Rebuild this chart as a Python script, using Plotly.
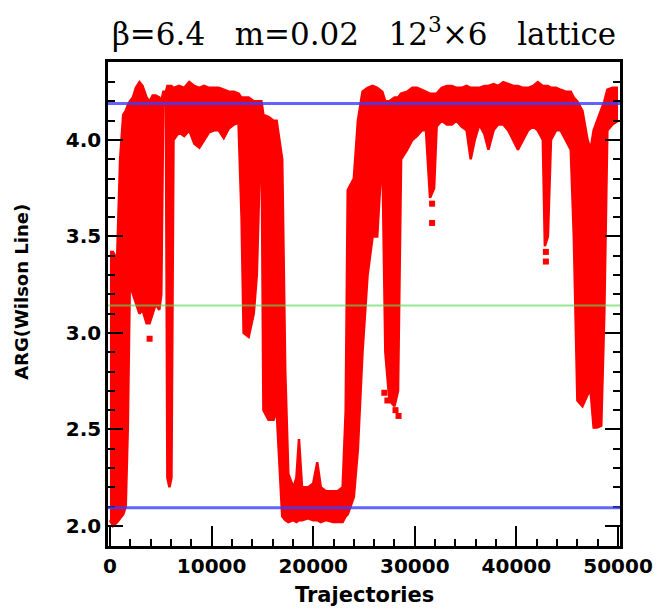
import plotly.graph_objects as go

# Trajectory samples and the upper / lower envelope of the ARG(Wilson Line) scatter
traj = [0, 300, 700, 1000, 1300, 1550, 1750, 1950, 2250, 2550, 2900, 3200, 3600, 3900, 4200, 4500,
        4850, 5050, 5250, 5500, 5650, 5850, 6050, 6250, 6800, 7300, 7800, 8300, 8800, 9250, 9750,
        10250, 10700, 11200, 11700, 12200, 12650, 12950, 13150, 13650, 14150, 14450, 14900, 15100,
        15600, 16100, 16400, 16950, 17250, 17550, 18050, 18350, 18600, 18900, 19500, 20000, 20400,
        20750, 21250, 21950, 22400, 22900, 23200, 23400, 24000, 24400, 24850, 25350, 25850, 26300,
        26800, 27100, 27500, 28000, 28350, 28650, 29250, 29750, 30200, 30700, 31100, 31500, 31900,
        32150, 32650, 33150, 33650, 34100, 34600, 35100, 35500, 35900, 36350, 36850, 37250, 37750,
        38200, 38700, 39200, 39700, 40150, 40650, 41150, 41650, 42100, 42600, 42800, 43100, 43400,
        43900, 44350, 44850, 45350, 45650, 46000, 46500, 47000, 47300, 47600, 47950, 48350, 48650,
        48950, 49450, 50000]
arg_hi = [3.42, 3.42, 3.38, 3.90, 4.13, 4.15, 4.18, 4.20, 4.22, 4.27, 4.30, 4.28, 4.22, 4.20, 4.23, 4.23,
          4.22, 4.20, 4.25, 4.25, 4.28, 4.28, 4.28, 4.27, 4.28, 4.27, 4.30, 4.28, 4.27, 4.28, 4.27,
          4.27, 4.27, 4.26, 4.25, 4.25, 4.24, 4.22, 4.22, 4.22, 4.20, 4.20, 4.20, 4.13,
          4.12, 4.10, 4.10, 3.90, 2.80, 2.27, 2.20, 2.25, 2.45, 2.20, 2.20, 2.22, 2.33,
          2.20, 2.18, 2.18, 2.18, 2.20, 2.60, 3.74, 3.80, 4.10, 4.25, 4.27, 4.28, 4.27,
          4.25, 4.20, 4.20, 4.22, 4.22, 4.24, 4.25, 4.27, 4.27, 4.26, 4.25, 4.24, 4.24,
          4.24, 4.27, 4.28, 4.28, 4.27, 4.27, 4.28, 4.27, 4.27, 4.27, 4.28, 4.28, 4.29,
          4.28, 4.30, 4.29, 4.28, 4.28, 4.27, 4.27, 4.28, 4.30, 4.28, 4.28, 4.28, 4.27,
          4.27, 4.26, 4.25, 4.25, 4.22, 4.20, 4.15, 4.00, 3.95, 4.05, 4.10, 4.15, 4.20,
          4.26, 4.27, 4.27]
arg_lo = [2.03, 2.00, 2.02, 2.04, 2.06, 2.10, 2.50, 3.25, 3.20, 3.15, 3.10, 3.12, 3.05, 3.05, 3.10, 3.15,
          3.12, 3.20, 4.20, 4.18, 2.25, 2.20, 2.25, 4.00, 4.04, 4.02, 4.05, 3.98, 3.96, 4.00, 4.04,
          4.05, 4.05, 4.01, 4.06, 4.08, 4.09, 3.60, 3.00, 2.98, 3.10, 3.30, 4.15, 2.60,
          2.55, 2.55, 2.60, 2.05, 2.03, 2.02, 2.03, 2.02, 2.03, 2.03, 2.04, 2.03, 2.03,
          2.02, 2.03, 2.02, 2.02, 2.02, 2.05, 2.06, 2.15, 2.40, 2.90, 3.30, 3.50, 3.50,
          3.95, 2.90, 2.65, 2.62, 2.70, 3.90, 3.95, 4.00, 4.02, 4.05, 4.05, 3.70, 3.75,
          4.07, 4.10, 4.08, 4.08, 4.10, 4.07, 4.05, 3.90, 4.00, 4.08, 4.03, 3.95, 4.05,
          4.08, 4.08, 4.05, 4.00, 3.95, 4.00, 4.05, 4.07, 4.05, 4.00, 3.45, 3.50, 4.00,
          4.05, 4.05, 4.00, 3.95, 3.50, 2.65, 2.62, 2.68, 2.70, 2.51, 2.51, 2.52, 3.10,
          4.05, 4.08, 4.10]

# isolated points outside the band
out_traj = [3900, 27000, 27300, 28100, 28400, 31700, 31700, 42900, 42900]
out_arg = [2.97, 2.69, 2.65, 2.60, 2.57, 3.67, 3.57, 3.42, 3.37]

# reference levels (Z3 sectors)
blue_levels = [2.094, 4.189]
green_levels = [3.1416]

x_ticks = [0, 10000, 20000, 30000, 40000, 50000]
x_ticktext = ["0", "10000", "20000", "30000", "40000", "50000"]
y_ticks = [2.0, 2.5, 3.0, 3.5, 4.0]
y_ticktext = ["2.0", "2.5", "3.0", "3.5", "4.0"]

RED = "#ff0000"
fig = go.Figure()
fig.add_trace(go.Scatter(x=traj, y=arg_lo, mode="lines", line=dict(color=RED, width=2.5),
                         showlegend=False, hoverinfo="skip"))
fig.add_trace(go.Scatter(x=traj, y=arg_hi, mode="lines", line=dict(color=RED, width=2.5),
                         fill="tonexty", fillcolor=RED, showlegend=False, hoverinfo="skip"))
fig.add_trace(go.Scatter(x=out_traj, y=out_arg, mode="markers",
                         marker=dict(color=RED, size=6, symbol="square"), showlegend=False))

for lv in blue_levels:
    fig.add_shape(type="line", xref="paper", x0=0, x1=1, yref="y", y0=lv, y1=lv,
                  line=dict(color="rgba(60,60,255,0.8)", width=3), layer="above")
for lv in green_levels:
    fig.add_shape(type="line", xref="paper", x0=0, x1=1, yref="y", y0=lv, y1=lv,
                  line=dict(color="rgba(90,220,90,0.65)", width=2), layer="above")

tickfont = dict(family="DejaVu Sans", size=20, color="black", weight="bold")
sp = "\u00a0\u00a0\u00a0"
fig.update_layout(
    width=665, height=615,
    margin=dict(l=108, r=40, t=62, b=69),
    paper_bgcolor="white", plot_bgcolor="white",
    title=dict(text="β=6.4" + sp + "m=0.02" + sp + "12<sup>3</sup>×6" + sp + "lattice",
               x=0.5, xref="paper", xanchor="center", y=1 - 34 / 615, yref="container",
               yanchor="middle", font=dict(family="DejaVu Serif", size=31, color="black")),
    xaxis=dict(range=[-195, 50195], showgrid=False, zeroline=False, showline=True,
               linecolor="black", linewidth=2.5, mirror=True, ticks="inside", ticklen=20,
               tickwidth=2, tickcolor="black", tickvals=x_ticks, ticktext=x_ticktext,
               tickfont=tickfont,
               minor=dict(ticks="inside", ticklen=7, tickwidth=1.5, tickcolor="black",
                          tick0=0, dtick=2000, showgrid=False)),
    yaxis=dict(range=[1.896, 4.404], showgrid=False, zeroline=False, showline=True,
               linecolor="black", linewidth=2.5, mirror="ticks", ticks="inside", ticklen=15,
               tickwidth=2, tickcolor="black", tickvals=y_ticks, ticktext=y_ticktext,
               tickfont=tickfont,
               minor=dict(ticks="inside", ticklen=7, tickwidth=1.5, tickcolor="black",
                          tick0=2.0, dtick=0.1, showgrid=False)),
    annotations=[
        dict(text="ARG(Wilson Line)", xref="paper", yref="paper", x=(20 - 108) / 517,
             y=(546 - 292) / 484, xanchor="center", yanchor="middle", textangle=-90,
             showarrow=False, font=dict(family="DejaVu Sans", size=18, color="black", weight="bold")),
        dict(text="Trajectories", xref="paper", yref="paper", x=(367 - 108) / 517,
             y=(546 - 595) / 484, xanchor="center", yanchor="middle",
             showarrow=False, font=dict(family="DejaVu Sans", size=21, color="black", weight="bold")),
    ],
)

fig.write_html("out.html")
